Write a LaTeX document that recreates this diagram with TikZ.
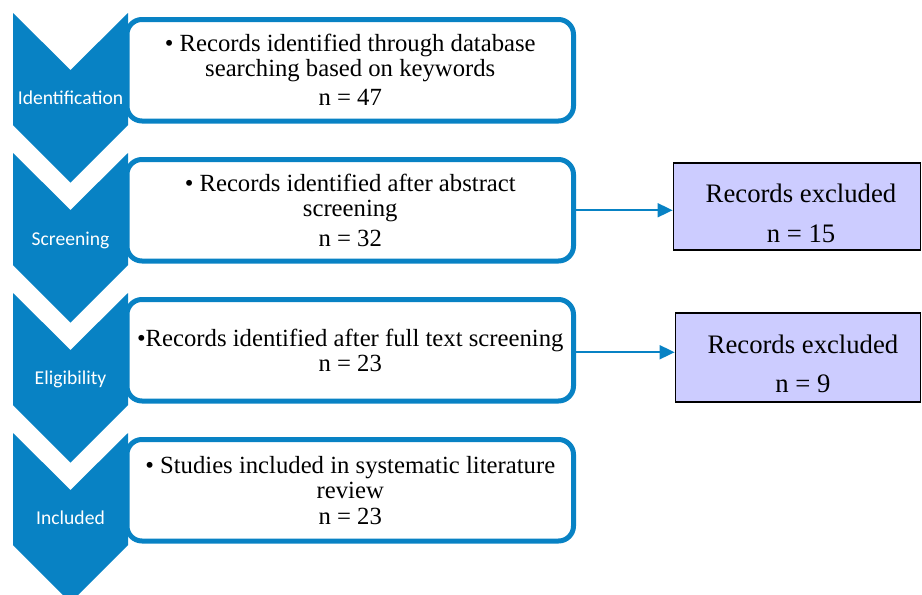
\documentclass[tikz,border=0pt]{standalone}
\usepackage{fontspec}
\setmainfont{Liberation Serif}
\newfontfamily\calib{Carlito}
\usetikzlibrary{arrows.meta}
\definecolor{mblue}{RGB}{8,130,196}
\definecolor{lav}{RGB}{204,204,255}
\begin{document}
\begin{tikzpicture}[x=1pt,y=-1pt,
  stagebox/.style={draw=mblue, line width=5pt, rounded corners=15pt, minimum width=446.5pt, minimum height=101.5pt, inner sep=0pt, align=center, font=\fontsize{24.7}{25}\selectfont, fill=white},
  chev/.style={fill=mblue},
  chevlabel/.style={text=white, font=\calib\fontsize{19.6}{22}\selectfont, anchor=base, inner sep=0pt},
  exbox/.style={draw=black, line width=1.3pt, fill=lav, inner sep=0pt},
  extext/.style={font=\fontsize{26.7}{40}\selectfont, inner sep=0pt, anchor=base},
  conn/.style={draw=mblue, line width=1.8pt, -{Triangle[length=15pt,width=14pt]}}
]
\useasboundingbox (0,0) rectangle (922,595);

% stage boxes
\node[stagebox] (b1) at (350.25,70.25) {• Records identified through database\\ searching based on keywords\\[4pt] n = 47};
\node[stagebox] (b2) at (350.25,210.25) {• Records identified after abstract\\ screening\\[5pt] n = 32};
\node[stagebox] (b3) at (350.25,350.25) {•Records identified after full text screening\\ n = 23};
\node[stagebox] (b4) at (350.25,490.25) {• Studies included in systematic literature\\ review\\[1pt] n = 23};

% chevrons
\foreach \t in {0,140,280,420}{
  \fill[chev] (13,13+\t) -- (70.5,70+\t) -- (128,13+\t) -- (128,125+\t) -- (70.5,182.5+\t) -- (13,125+\t) -- cycle;
}
\node[chevlabel] (lid) at (70.5,104) {Identification};
\node[chevlabel] (lsc) at (70.5,245) {Screening};
\node[chevlabel] (lel) at (70.5,384.5) {Eligibility};
\node[chevlabel] (lin) at (70.5,524) {Included};

% excluded boxes
\node[exbox, minimum width=247.5pt, minimum height=87pt] (ex1) at (797,206.5) {};
\node[extext] (ex1a) at (801,202) {Records excluded};
\node[extext] (ex1b) at (801,242) {n = 15};
\node[exbox, minimum width=245.5pt, minimum height=89pt] (ex2) at (798,357.5) {};
\node[extext] (ex2a) at (803,353) {Records excluded};
\node[extext] (ex2b) at (803,392) {n = 9};

% connectors
\draw[conn] (b2.east) -- (b2.east -| ex1.west);
\draw[conn] ([yshift=-2pt]b3.east) -- ([yshift=-2pt]b3.east -| ex2.west);
\end{tikzpicture}
\end{document}
